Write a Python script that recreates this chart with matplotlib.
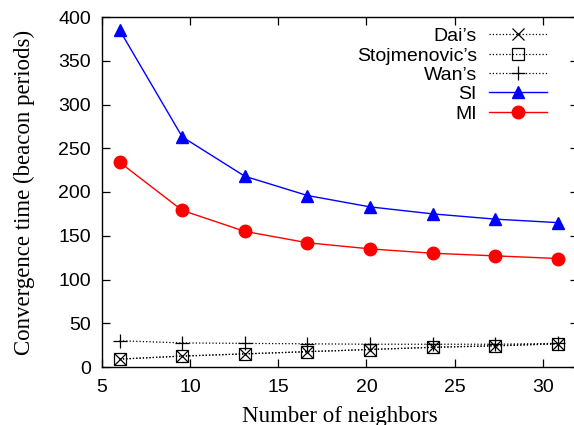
import numpy as np
import matplotlib
matplotlib.use('Agg')
import matplotlib.pyplot as plt

# data
neighbors = [6.0, 9.55, 13.1, 16.65, 20.2, 23.75, 27.3, 30.85]
dai   = [9, 12.5, 15, 17.5, 20, 22.5, 24, 26.5]
stoj  = [9, 12.5, 15, 17.5, 20, 22.5, 24.5, 26.5]
wan   = [30, 27.5, 27, 26.5, 26, 26, 26, 27]
si    = [385, 263, 218, 196, 183, 175, 169, 165]
mi    = [234, 179, 155, 142, 135, 130, 127, 124]

xticks = [5, 10, 15, 20, 25, 30]
yticks = [0, 50, 100, 150, 200, 250, 300, 350, 400]

plt.rcParams['font.family'] = ['Liberation Sans', 'DejaVu Sans']
fig = plt.figure(figsize=(5.74, 4.25), dpi=100)
W, H = 574., 425.
ax = fig.add_axes([102/W, 1-367/H, (578-102)/W, (367-17)/H])

ax.plot(neighbors, dai, ls=':', color='k', lw=0.9, marker='x', ms=8,
        mew=0.9, label="Dai\u2019s")
ax.plot(neighbors, stoj, ls=':', color='k', lw=0.9, marker='s', ms=9,
        mfc='none', mew=0.9, label="Stojmenovic\u2019s")
ax.plot(neighbors, wan, ls=':', color='k', lw=0.9, marker='+', ms=10,
        mew=0.9, label="Wan\u2019s")
ax.plot(neighbors, si, ls='-', color='blue', lw=1, marker='^', ms=8,
        label='SI')
ax.plot(neighbors, mi, ls='-', color='red', lw=1, marker='o', ms=9,
        label='MI')

ax.set_xlim(5, 32)
ax.set_ylim(0, 400)
ax.set_xticks(xticks)
ax.set_yticks(yticks)
ax.tick_params(direction='in', length=6, width=0.9, labelsize=14,
               top=True, right=True)
ax.tick_params(axis='x', pad=9)
ax.tick_params(axis='y', pad=8)
for s in ax.spines.values():
    s.set_linewidth(1.0)

ax.set_ylabel('Convergence time (beacon periods)', family='Liberation Serif',
              fontsize=16.5, labelpad=17)
ax.set_xlabel('Number of neighbors', family='Liberation Serif',
              fontsize=16.5, labelpad=7)

leg = ax.legend(loc='upper right', bbox_to_anchor=(0.951, 0.992), frameon=False,
                markerfirst=False, fontsize=14, handlelength=3.0,
                labelspacing=0.09, borderaxespad=0.0, handletextpad=0.6)
for t in leg.get_texts():
    t.set_ha('right')

fig.savefig('out.png', dpi=100)
